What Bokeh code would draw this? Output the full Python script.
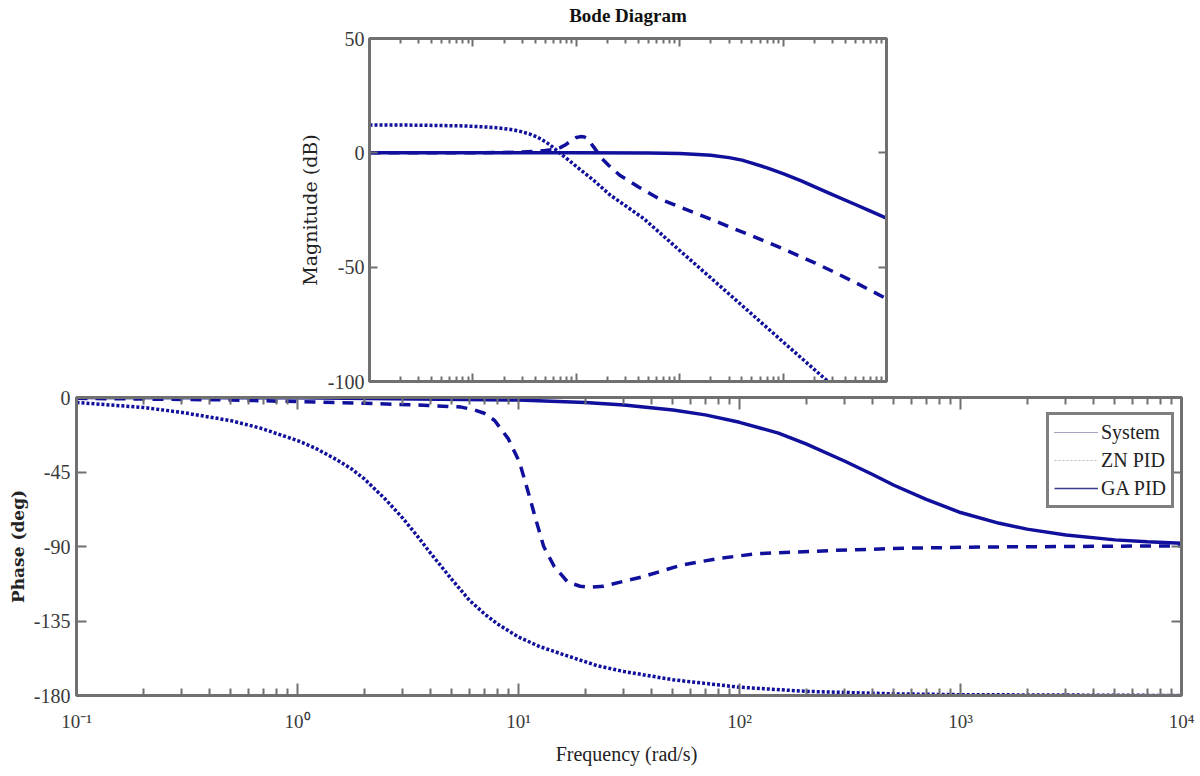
import math
from bokeh.plotting import figure
from bokeh.layouts import column, row
from bokeh.models import (LogAxis, LinearAxis, FixedTicker, Legend, LegendItem,
                          ColumnDataSource)
from bokeh.embed import file_html
from bokeh.resources import INLINE

# ---------------- data ----------------
x_ticks = [0.1, 1, 10, 100, 1000, 10000]
x_tick_labels = ["10\u207b\u00b9", "10\u2070", "10\u00b9", "10\u00b2", "10\u00b3", "10\u2074"]
mag_ticks = [-100, -50, 0, 50]
mag_tick_labels = ["-100", "-50", "0", "50"]
phase_ticks = [-180, -135, -90, -45, 0]
phase_tick_labels = ["-180", "-135", "-90", "-45", "0"]
series_names = ["System", "ZN PID", "GA PID"]

# Magnitude (dB)
sys_mag_w = [0.1, 0.3, 0.75, 1.0, 1.58, 2.0, 2.5, 2.87, 3.5, 4.16, 5.0, 5.6, 7.0, 8.5, 10.1,
             14.7, 21.3, 30.9, 44.7, 60, 100, 200, 500, 1000, 2000, 3000]
sys_mag_db = [12.2, 12.1, 11.8, 11.6, 11.1, 10.6, 10.0, 9.4, 8.3, 7.0, 4.9, 3.4, -0.3, -3.3,
              -6.1, -12.0, -18.5, -23.6, -28.7, -33.8, -42.7, -54.7, -70.6, -82.7, -94.7,
              -101.7]

zn_mag_w = [0.1, 1, 2, 3, 4, 5, 6, 7, 7.8, 9.0, 10.0, 11.0, 12.0, 12.5, 13.5, 14.7, 17.7,
            20.5, 26.3, 30.9, 40, 48.3, 62.7, 75.4, 100, 200, 300, 500, 1000, 2000, 3000,
            5000, 10000]
zn_mag_db = [0, 0.05, 0.15, 0.35, 0.6, 1.0, 1.4, 2.3, 3.4, 5.4, 6.7, 7.1, 6.9, 6.5, 4.8, 2.6,
             -2.5, -5.4, -9.8, -11.7, -14.9, -17.0, -20.0, -21.4, -23.7, -29.0, -32.3, -36.3,
             -42.0, -48.0, -51.8, -56.7, -63.8]

ga_mag_w = [0.1, 10, 50, 100, 150, 200, 300, 400, 500, 700, 1000, 1500, 2000, 3000, 5000,
            7000, 10000]
ga_mag_db = [0, 0, -0.1, -0.3, -0.7, -1.1, -2.1, -3.2, -4.5, -6.6, -9.1, -12.3, -14.8, -18.3,
             -22.6, -25.5, -28.6]

# Phase (deg)
sys_ph_w = [0.1, 0.2, 0.3, 0.5, 0.68, 1.0, 1.2, 1.5, 1.75, 2.0, 2.5, 3.0, 3.5, 4.0, 5.0, 6.0,
            7.0, 8.0, 10, 12.5, 15.5, 22.7, 30, 50, 100, 200, 500, 1000, 10000]
sys_ph = [-3, -6, -9, -14, -18.5, -26, -30.5, -37.5, -43, -49, -61.5, -73, -84, -94, -110,
          -122.5, -130.6, -136.6, -144.7, -150.5, -154.7, -162, -165.5, -170.5, -175, -177.5,
          -179, -179.5, -180]

zn_ph_w = [0.1, 0.5, 1, 2, 3.9, 5.5, 6.3, 7.0, 7.8, 9.0, 10.1, 11.0, 12.0, 13.0, 14.5, 16.7,
           19, 21, 24.3, 30, 36, 54, 79, 118, 263, 577, 1274, 3000, 10000]
zn_ph = [-0.5, -1.5, -2.5, -3.5, -4.8, -5.8, -7.4, -9.5, -13.9, -25, -39, -56, -74, -90, -102,
         -111.5, -114, -114.6, -114, -111, -108.5, -101.4, -97.4, -94.4, -92.4, -91, -90.3,
         -90, -89.6]

ga_ph_w = [0.1, 1, 10, 20, 30, 50, 70, 100, 150, 200, 300, 400, 500, 700, 1000, 1500, 2000,
           3000, 5000, 7000, 10000]
ga_ph = [0, -0.2, -1.5, -3, -4.5, -7.5, -10.5, -15, -21.5, -28, -38.5, -46.5, -53, -61.5,
         -69.5, -76, -79.5, -83, -86, -87.2, -88]

# ---------------- styling ----------------
BLUE = "#10109c"
FRAME = "#707070"
TICKTXT = "#3a3a3a"
SERIF = "Liberation Serif"
minor_ticks = [k * t for t in x_ticks[:-1] for k in range(2, 10)]


def style_axis(ax, label_size="19px", show_labels=True, tick_in=9, minor_in=6):
    ax.axis_line_color = FRAME
    ax.axis_line_width = 3
    ax.major_tick_line_color = FRAME
    ax.major_tick_line_width = 2
    ax.minor_tick_line_color = FRAME
    ax.minor_tick_line_width = 2
    ax.major_tick_in = tick_in
    ax.major_tick_out = 0
    ax.minor_tick_in = minor_in
    ax.minor_tick_out = 0
    ax.major_label_text_font = SERIF
    ax.major_label_text_color = TICKTXT
    if show_labels:
        ax.major_label_text_font_size = label_size
        ax.major_label_standoff = 6
    else:
        ax.major_label_text_font_size = "1px"
        ax.major_label_text_alpha = 0
        ax.major_label_standoff = 0


def base_fig(**kw):
    p = figure(x_axis_type="log", output_backend="svg", toolbar_location=None,
               x_axis_location=None, y_axis_location=None, **kw)
    p.grid.visible = False
    p.outline_line_color = FRAME
    p.outline_line_width = 3
    p.background_fill_color = "white"
    return p


# ---------------- magnitude plot ----------------
p1 = base_fig(x_range=(0.1, 1e4), y_range=(-100, 50),
              frame_width=517, frame_height=343,
              min_border_left=369, min_border_right=314,
              min_border_top=46, min_border_bottom=16,
              title="Bode Diagram")
p1.border_fill_color = "white"
p1.margin = (-11, 0, 0, 0)
p1.title.align = "center"
p1.title.text_font = SERIF
p1.title.text_font_style = "bold"
p1.title.text_font_size = "19px"
p1.title.text_line_height = 1.0
p1.title.text_color = "#111111"
p1.title.standoff = 26

for loc in ("below", "above"):
    ax = LogAxis(ticker=FixedTicker(ticks=x_ticks, minor_ticks=minor_ticks))
    style_axis(ax, show_labels=False, tick_in=8, minor_in=5)
    p1.add_layout(ax, loc)
yl = LinearAxis(ticker=FixedTicker(ticks=mag_ticks), axis_label="Magnitude (dB)")
style_axis(yl, label_size="20px", tick_in=8)
yl.major_label_overrides = dict(zip(mag_ticks, mag_tick_labels))
yl.major_label_standoff = 5
yl.axis_label_text_font = "DejaVu Serif"
yl.axis_label_text_font_style = "normal"
yl.axis_label_text_font_size = "19px"
yl.axis_label_text_color = "#222222"
yl.axis_label_standoff = 4
p1.add_layout(yl, "left")
yr = LinearAxis(ticker=FixedTicker(ticks=mag_ticks))
style_axis(yr, show_labels=False, tick_in=8)
p1.add_layout(yr, "right")

p1.line(sys_mag_w, sys_mag_db, line_color=BLUE, line_width=3.5, line_dash="3 2")
p1.line(zn_mag_w, zn_mag_db, line_color=BLUE, line_width=3.5, line_dash="11 8")
p1.line(ga_mag_w, ga_mag_db, line_color=BLUE, line_width=3.5)

# ---------------- phase plot ----------------
p2 = base_fig(x_range=(0.1, 1e4), y_range=(-180, 0),
              frame_width=1105, frame_height=298,
              min_border_left=76, min_border_right=19,
              min_border_top=14, min_border_bottom=81)
p2.border_fill_alpha = 0
p2.margin = (-14, 0, 0, 0)

xb = LogAxis(ticker=FixedTicker(ticks=x_ticks, minor_ticks=minor_ticks),
             axis_label="Frequency  (rad/s)")
style_axis(xb, label_size="19px", tick_in=12, minor_in=7)
xb.major_label_overrides = dict(zip(x_ticks, x_tick_labels))
xb.major_label_standoff = 15
xb.axis_label_text_font = SERIF
xb.axis_label_text_font_style = "normal"
xb.axis_label_text_font_size = "20px"
xb.axis_label_text_color = "#222222"
xb.axis_label_standoff = 8
p2.add_layout(xb, "below")
xa = LogAxis(ticker=FixedTicker(ticks=x_ticks, minor_ticks=minor_ticks))
style_axis(xa, show_labels=False, tick_in=12, minor_in=7)
p2.add_layout(xa, "above")

pl = LinearAxis(ticker=FixedTicker(ticks=phase_ticks), axis_label="Phase (deg)")
style_axis(pl, label_size="20px", tick_in=10)
pl.major_label_overrides = dict(zip(phase_ticks, phase_tick_labels))
pl.axis_label_text_font = "DejaVu Serif"
pl.axis_label_text_font_style = "bold"
pl.axis_label_text_font_size = "17px"
pl.axis_label_text_color = "#222222"
pl.axis_label_standoff = 3
p2.add_layout(pl, "left")
pr = LinearAxis(ticker=FixedTicker(ticks=phase_ticks))
style_axis(pr, show_labels=False, tick_in=10)
p2.add_layout(pr, "right")

p2.line(sys_ph_w, sys_ph, line_color=BLUE, line_width=3.5, line_dash="3 2")
p2.line(zn_ph_w, zn_ph, line_color=BLUE, line_width=3.5, line_dash="11 8")
p2.line(ga_ph_w, ga_ph, line_color=BLUE, line_width=3.5)

# legend glyphs (thin, as drawn in the reference legend); the lines hold no drawable points
nan_src = ColumnDataSource(data=dict(x=[1.0, 2.0], y=[math.nan, math.nan]))
lg_sys = p2.line("x", "y", source=nan_src, line_color="#4a4a80", line_width=1, line_dash="1 1")
lg_zn = p2.line("x", "y", source=nan_src, line_color="#b4bccc", line_width=1.2, line_dash="2 2")
lg_ga = p2.line("x", "y", source=nan_src, line_color="#3a3a8a", line_width=1.6)

legend = Legend(items=[LegendItem(label=series_names[0], renderers=[lg_sys]),
                       LegendItem(label=series_names[1], renderers=[lg_zn]),
                       LegendItem(label=series_names[2], renderers=[lg_ga])],
                location=(970, 187), margin=0, padding=5, spacing=4,
                label_height=24, glyph_height=24, glyph_width=44, label_standoff=3,
                label_text_font=SERIF, label_text_font_size="20px",
                label_text_color="#222222",
                border_line_color="black", border_line_width=3,
                background_fill_color="white", background_fill_alpha=1)
p2.add_layout(legend, "center")

layout = column(row(p1), row(p2), spacing=0)
open("out.html", "w").write(file_html(layout, INLINE))
